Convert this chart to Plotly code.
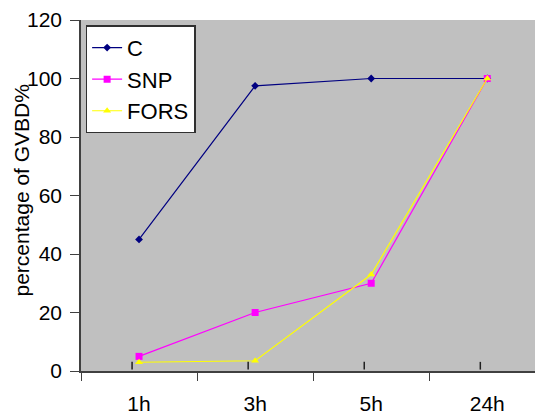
import plotly.graph_objects as go

hours = ["1h", "3h", "5h", "24h"]
c_vals = [45, 97.5, 100, 100]
snp_vals = [5, 20, 30, 100]
fors_vals = [3, 3.5, 33, 100]
y_ticks = [0, 20, 40, 60, 80, 100, 120]

FONT = "Liberation Sans, Arial, sans-serif"
AXIS = "#404040"

fig = go.Figure()
fig.add_trace(go.Scatter(
    x=hours, y=c_vals, name="C", mode="lines+markers",
    line=dict(color="#000080", width=1.2),
    marker=dict(symbol="diamond", size=6, color="#000080"),
))
fig.add_trace(go.Scatter(
    x=hours, y=snp_vals, name="SNP", mode="lines+markers",
    line=dict(color="#FF00FF", width=1.2),
    marker=dict(symbol="square", size=7, color="#FF00FF"),
))
fig.add_trace(go.Scatter(
    x=hours, y=fors_vals, name="FORS", mode="lines+markers",
    line=dict(color="#FFFF00", width=1.2),
    marker=dict(symbol="triangle-up", size=7, color="#FFFF00"),
))

# small inside tick marks sitting just left of each category (excel quirk)
for i in range(len(hours)):
    fig.add_shape(
        type="line", xref="x", yref="paper",
        x0=i - 0.06, x1=i - 0.06, y0=0.004, y1=0.026,
        line=dict(color="#202020", width=1.5),
    )

# page body has an 8px margin, so the figure is drawn 8px smaller
fig.update_layout(
    width=535, height=409,
    margin=dict(l=73, r=0, t=12, b=46),
    paper_bgcolor="white",
    plot_bgcolor="#C0C0C0",
    font=dict(family=FONT, color="black", size=20),
    xaxis=dict(
        type="category", range=[-0.5, 3.48], automargin=False,
        showgrid=False, zeroline=False,
        showline=True, linecolor=AXIS, linewidth=1.5,
        ticks="outside", ticklen=8, tickcolor=AXIS,
        tickson="boundaries",
        tickfont=dict(size=21),
        ticklabelstandoff=13,
    ),
    yaxis=dict(
        range=[0, 120], tickvals=y_ticks, automargin=False,
        showgrid=False, zeroline=False,
        showline=True, linecolor=AXIS, linewidth=1.5,
        ticks="outside", ticklen=9, tickcolor=AXIS,
        tickfont=dict(size=21),
        ticklabelstandoff=4,
    ),
    annotations=[dict(
        text="percentage of GVBD%", textangle=-90,
        xref="paper", yref="paper", x=0, y=0.5,
        xanchor="center", yanchor="middle", xshift=-60, yshift=5,
        showarrow=False, font=dict(size=21),
    )],
    legend=dict(
        x=0.01, y=0.985, xanchor="left", yanchor="top",
        bgcolor="white", bordercolor="#303030", borderwidth=1.5,
        font=dict(size=22),
        itemwidth=30,
    ),
)

fig.write_html("out.html")
